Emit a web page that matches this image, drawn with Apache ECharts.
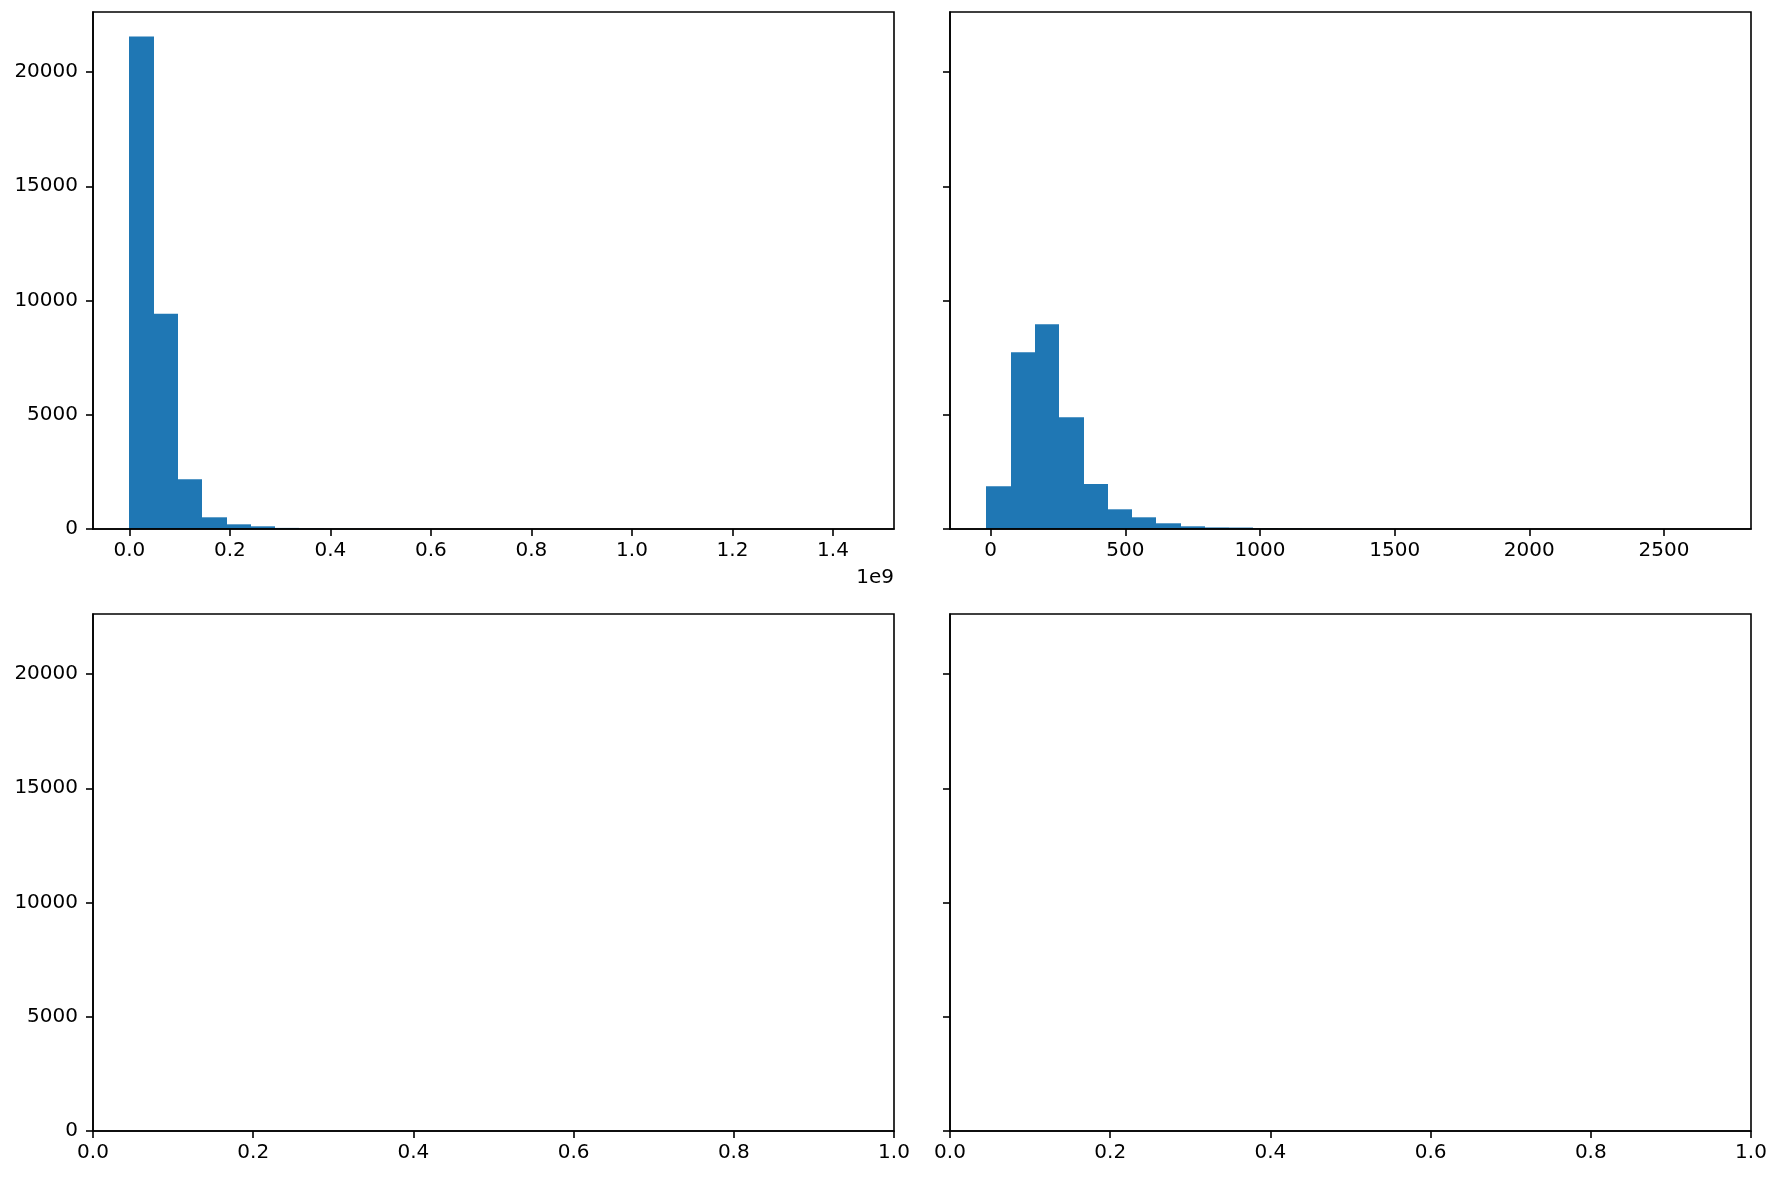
<!DOCTYPE html>
<html>
<head>
<meta charset="utf-8">
<script src="https://cdn.jsdelivr.net/npm/echarts@6/dist/echarts.min.js"></script>
<style>
html,body{margin:0;padding:0;background:#fff;}
#chart{width:1779px;height:1178px;}
</style>
</head>
<body>
<div id="chart"></div>
<script>
// ---- data ----
const binCount = 30;
const leftRange = [0, 1.449e9];            // data min/max of the left histogram
const leftCounts = [21550, 9420, 2180, 512, 205, 118, 48, 22, 12, 8, 5, 3, 2, 2, 1, 1, 1, 0, 0, 1, 0, 0, 0, 0, 0, 0, 0, 0, 0, 1];
const rightRange = [-16, 2688];             // data min/max of the right histogram
const rightCounts = [1869, 7733, 8960, 4888, 1970, 862, 512, 250, 118, 70, 64, 30, 20, 10, 6, 4, 3, 2, 1, 1, 1, 0, 0, 0, 0, 0, 0, 0, 0, 1];
const yTicks = [0, 5000, 10000, 15000, 20000];
const leftXTicks = [0, 0.2e9, 0.4e9, 0.6e9, 0.8e9, 1.0e9, 1.2e9, 1.4e9];
const rightXTicks = [0, 500, 1000, 1500, 2000, 2500];
const emptyXTicks = [0, 0.2, 0.4, 0.6, 0.8, 1.0];
const offsetText = '1e9';

function bins(range, counts) {
  const w = (range[1] - range[0]) / counts.length;
  return counts.map((c, i) => [range[0] + i * w, range[0] + (i + 1) * w, c]);
}
const leftData = bins(leftRange, leftCounts);
const rightData = bins(rightRange, rightCounts);
const yMax = Math.max(...leftCounts, ...rightCounts) * 1.05;
function padded(range) {
  const s = range[1] - range[0];
  return [range[0] - 0.05 * s, range[1] + 0.05 * s];
}
const lx = padded(leftRange), rx = padded(rightRange);

const font = 'DejaVu Sans';
const black = '#000000';
const labelStyle = {color: black, fontFamily: font, fontSize: 20};
const tickStyle = {show: true, inside: false, length: 7, lineStyle: {color: black, width: 1.6}};

function xAxis(gi, min, max, ticks, fmt) {
  return {
    type: 'value', gridIndex: gi, min: min, max: max,
    splitLine: {show: false},
    axisLine: {show: true, onZero: false, lineStyle: {color: black, width: 1.6}},
    axisTick: Object.assign({customValues: ticks}, tickStyle),
    axisLabel: Object.assign({customValues: ticks, margin: 12, formatter: fmt, showMinLabel: true, showMaxLabel: true}, labelStyle),
    z: 5
  };
}
function yAxis(gi, showLabels) {
  return {
    type: 'value', gridIndex: gi, min: 0, max: yMax,
    splitLine: {show: false},
    axisLine: {show: true, onZero: false, lineStyle: {color: black, width: 1.6}},
    axisTick: Object.assign({customValues: yTicks}, tickStyle),
    axisLabel: Object.assign({show: showLabels, customValues: yTicks, margin: 15, formatter: v => String(Math.round(v))}, labelStyle),
    z: 5
  };
}
const gridBase = {show: true, borderColor: black, borderWidth: 1.6, backgroundColor: 'transparent', width: 801, height: 517, containLabel: false, z: 5};

function renderHist(params, api) {
  const p0 = api.coord([api.value(0), 0]);
  const p1 = api.coord([api.value(1), api.value(2)]);
  const x0 = Math.round(p0[0]), x1 = Math.round(p1[0]);
  return {
    type: 'rect',
    shape: {x: x0, y: p1[1], width: x1 - x0, height: p0[1] - p1[1]},
    style: {fill: '#1f77b4'}
  };
}

const chart = echarts.init(document.getElementById('chart'), null, {renderer: 'canvas'});
chart.setOption({
  animation: false,
  backgroundColor: '#ffffff',
  grid: [
    Object.assign({left: 93, top: 12}, gridBase),
    Object.assign({left: 950, top: 12}, gridBase),
    Object.assign({left: 93, top: 614}, gridBase),
    Object.assign({left: 950, top: 614}, gridBase)
  ],
  xAxis: [
    xAxis(0, lx[0], lx[1], leftXTicks, v => (v / 1e9).toFixed(1)),
    xAxis(1, rx[0], rx[1], rightXTicks, v => String(Math.round(v))),
    xAxis(2, 0, 1, emptyXTicks, v => v.toFixed(1)),
    xAxis(3, 0, 1, emptyXTicks, v => v.toFixed(1))
  ],
  yAxis: [yAxis(0, true), yAxis(1, false), yAxis(2, true), yAxis(3, false)],
  series: [
    {type: 'custom', xAxisIndex: 0, yAxisIndex: 0, renderItem: renderHist, data: leftData, encode: {x: [0, 1], y: 2}, clip: true, z: 2},
    {type: 'custom', xAxisIndex: 1, yAxisIndex: 1, renderItem: renderHist, data: rightData, encode: {x: [0, 1], y: 2}, clip: true, z: 2}
  ],
  graphic: [
    {type: 'text', x: 894, y: 578, style: {text: offsetText, fill: black, font: '20px "DejaVu Sans"', textAlign: 'right', textVerticalAlign: 'middle'}}
  ]
});
</script>
</body>
</html>
